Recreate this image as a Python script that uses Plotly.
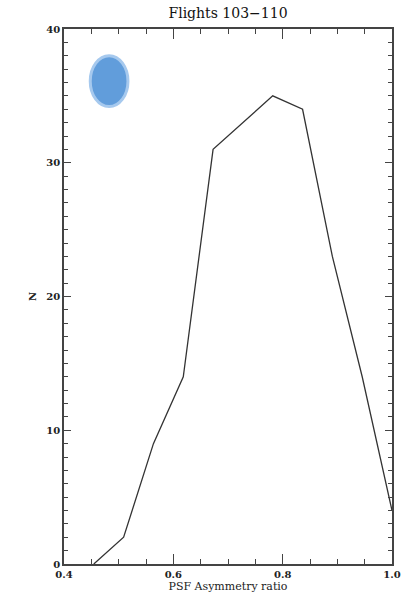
import plotly.graph_objects as go

# Data
asym_ratio = [0.4545, 0.5091, 0.5636, 0.6182, 0.6727, 0.7273, 0.7818, 0.8364, 0.8909, 0.9455, 1.0]
counts = [0, 2, 9, 14, 31, 33, 35, 34, 23, 14, 4]
x_ticks = [0.4, 0.6, 0.8, 1.0]
x_tick_labels = ["0.4", "0.6", "0.8", "1.0"]
y_ticks = [0, 10, 20, 30, 40]
y_tick_labels = ["0", "10", "20", "30", "40"]

serif = "DejaVu Serif, Liberation Serif, serif"

fig = go.Figure()
fig.add_trace(go.Scatter(
    x=asym_ratio, y=counts, mode="lines",
    line=dict(color="#333333", width=1.3),
    showlegend=False, hoverinfo="skip",
))

axis_common = dict(
    showgrid=False, zeroline=False, automargin=False,
    showline=True, linecolor="#444444", linewidth=1.5,
    mirror="ticks", ticks="inside", tickcolor="#444444",
    tickfont=dict(family=serif, size=10, color="#222222", weight="bold"),
)

fig.update_xaxes(
    range=[0.4, 1.0], tickvals=x_ticks, ticktext=x_tick_labels,
    ticklen=10, tickwidth=1.3,
    minor=dict(dtick=0.05, ticklen=5, ticks="inside", tickcolor="#444444", tickwidth=1.2),
    title=dict(text="PSF Asymmetry ratio", font=dict(family=serif, size=11, color="#222222"), standoff=0),
    **axis_common,
)
fig.update_yaxes(
    range=[0, 40], tickvals=y_ticks, ticktext=y_tick_labels,
    ticklen=7, tickwidth=1.3,
    minor=dict(dtick=1, ticklen=4, ticks="inside", tickcolor="#444444", tickwidth=1.2),
    title=dict(text="N", font=dict(family=serif, size=10, color="#222222", weight="bold"), standoff=8),
    **axis_common,
)

fig.add_shape(
    type="circle", xref="x", yref="y",
    x0=0.448, x1=0.517, y0=34.2, y1=38.0,
    fillcolor="#619ddb", line=dict(color="#a6c9ee", width=3),
)

fig.update_layout(
    width=405, height=598,
    margin=dict(l=64, r=13, t=29, b=34),
    paper_bgcolor="white", plot_bgcolor="white",
    title=dict(text="Flights 103\u2212110", xref="paper", x=0.5, xanchor="center",
               yref="container", y=0.978, yanchor="middle",
               font=dict(family=serif, size=14, color="#111111")),
)

fig.write_html("out.html")
